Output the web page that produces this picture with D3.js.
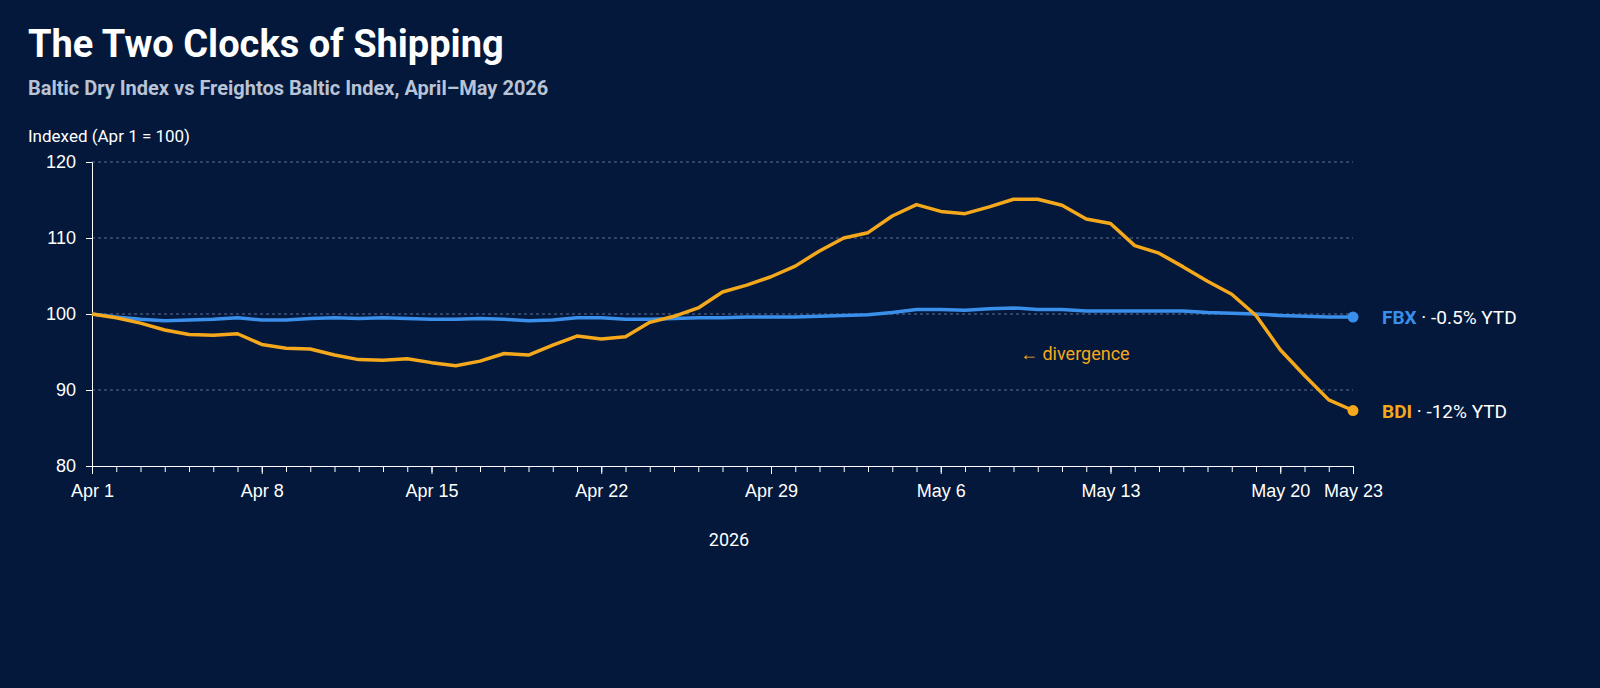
<!DOCTYPE html>
<html>
<head>
<meta charset="utf-8">
<script src="https://cdn.jsdelivr.net/npm/d3@7"></script>
<style>
  body { margin: 0; background: #03183a; }
  svg { display: block; font-family: "Liberation Sans Narrow", "Roboto", sans-serif; }
</style>
</head>
<body>
<svg id="chart" width="1600" height="688"></svg>
<script>
// daily values, Apr 1 .. May 23 2026, indexed Apr 1 = 100
let bdi = [100, 99.5, 98.8, 97.9, 97.3, 97.2, 97.4, 96.0, 95.5, 95.4, 94.6, 94.0, 93.9, 94.1, 93.6,
    93.2, 93.8, 94.8, 94.6, 95.9, 97.1, 96.7, 97.0, 98.9, 99.7, 100.8, 102.9, 103.8, 104.9, 106.3,
    108.3, 110.0, 110.7, 112.9, 114.4, 113.5, 113.2, 114.1, 115.1, 115.1, 114.3, 112.5, 111.9, 109.0,
    108.0, 106.2, 104.3, 102.6, 99.8, 95.3, 91.9, 88.7, 87.3];
let fbx = [100, 99.6, 99.3, 99.1, 99.2, 99.3, 99.5, 99.2, 99.2, 99.4, 99.5, 99.4, 99.5, 99.4, 99.3,
    99.3, 99.4, 99.3, 99.1, 99.2, 99.5, 99.5, 99.3, 99.3, 99.4, 99.5, 99.5, 99.6, 99.6, 99.6,
    99.7, 99.8, 99.9, 100.2, 100.6, 100.6, 100.5, 100.7, 100.8, 100.6, 100.6, 100.4, 100.4, 100.4,
    100.4, 100.4, 100.2, 100.1, 100.0, 99.8, 99.7, 99.6, 99.6];
let startDate = new Date(2026, 3, 1);
let dates = bdi.map((v, i) => d3.timeDay.offset(startDate, i));
let tickDates = ["2026-04-01", "2026-04-08", "2026-04-15", "2026-04-22", "2026-04-29",
    "2026-05-06", "2026-05-13", "2026-05-20", "2026-05-23"].map(d3.timeParse("%Y-%m-%d"));
let yTicks = [80, 90, 100, 110, 120];

let svg = d3.select("#chart");
let plotLeft = 92, plotRight = 1353, plotTop = 162, plotBottom = 466;
let bdiColor = "#f5a81c", fbxColor = "#3a8fea";

let xScale = d3.scaleTime().domain([dates[0], dates[dates.length - 1]]).range([plotLeft, plotRight]);
let yScale = d3.scaleLinear().domain([80, 120]).range([plotBottom, plotTop]);

svg.append("text").attr("x", 28).attr("y", 57).attr("fill", "#fff")
    .style("font-size", "38px").style("font-weight", "bold").text("The Two Clocks of Shipping");
svg.append("text").attr("x", 28).attr("y", 95).attr("fill", "#b9c3d6")
    .style("font-size", "20px").style("font-weight", "bold")
    .text("Baltic Dry Index vs Freightos Baltic Index, April\u2013May 2026");
svg.append("text").attr("x", 28).attr("y", 142).attr("fill", "#fff")
    .style("font-size", "17px").text("Indexed (Apr 1 = 100)");

// gridlines
svg.append("g").selectAll("line").data(yTicks.filter(d => d > 80)).enter().append("line")
    .attr("x1", plotLeft).attr("x2", plotRight)
    .attr("y1", d => yScale(d)).attr("y2", d => yScale(d))
    .attr("stroke", "#5a6f93").attr("stroke-dasharray", "3,3").attr("stroke-width", 1);

let yAxis = svg.append("g").attr("transform", `translate(${plotLeft},0)`)
    .call(d3.axisLeft(yScale).tickValues(yTicks).tickSize(6).tickPadding(10));
yAxis.selectAll("text").attr("fill", "#fff").style("font-size", "18px");
yAxis.selectAll("line, path").attr("stroke", "#fff");

let xMinor = svg.append("g").attr("transform", `translate(0,${plotBottom})`)
    .call(d3.axisBottom(xScale).tickValues(dates).tickSize(6).tickFormat(""));
xMinor.selectAll("line, path").attr("stroke", "#fff");

let xAxis = svg.append("g").attr("transform", `translate(0,${plotBottom})`)
    .call(d3.axisBottom(xScale).tickValues(tickDates).tickSize(8).tickPadding(10)
        .tickFormat(d3.timeFormat("%b %-d")));
xAxis.selectAll("text").attr("fill", "#fff").style("font-size", "18px");
xAxis.selectAll("line, path").attr("stroke", "#fff");

svg.append("text").attr("x", 729).attr("y", 546).attr("text-anchor", "middle")
    .attr("fill", "#fff").style("font-size", "18px").text("2026");

let line = d3.line().x((d, i) => xScale(dates[i])).y(d => yScale(d));

svg.append("path").datum(fbx).attr("d", line).attr("fill", "none")
    .attr("stroke", fbxColor).attr("stroke-width", 3.5).attr("stroke-linejoin", "round");
svg.append("path").datum(bdi).attr("d", line).attr("fill", "none")
    .attr("stroke", bdiColor).attr("stroke-width", 3.5).attr("stroke-linejoin", "round");

let last = dates.length - 1;
[[fbx, fbxColor, "FBX", " \u00b7 -0.5% YTD"], [bdi, bdiColor, "BDI", " \u00b7 -12% YTD"]].forEach(s => {
    let cx = xScale(dates[last]), cy = yScale(s[0][last]);
    svg.append("circle").attr("cx", cx).attr("cy", cy).attr("r", 5.5).attr("fill", s[1]);
    let t = svg.append("text").attr("x", cx + 29).attr("y", cy + 7).style("font-size", "19px");
    t.append("tspan").attr("fill", s[1]).style("font-weight", "bold").text(s[2]);
    t.append("tspan").attr("fill", "#fff").text(s[3]);
});

svg.append("text").attr("x", 1020).attr("y", 360).attr("fill", bdiColor)
    .style("font-size", "18px").text("\u2190 divergence");
</script>
</body>
</html>
